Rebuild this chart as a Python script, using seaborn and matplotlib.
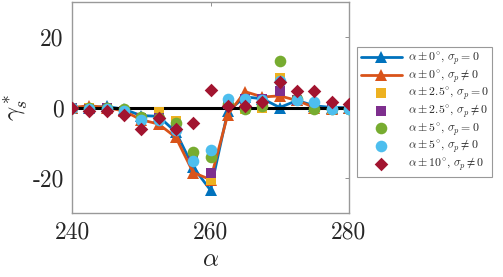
import numpy as np
import pandas as pd
import matplotlib
matplotlib.use("Agg")
import matplotlib.pyplot as plt
import seaborn as sns

# angle of attack grid
alpha = [240, 242.5, 245, 247.5, 250, 252.5, 255, 257.5, 260,
         262.5, 265, 267.5, 270, 272.5, 275, 277.5, 280]

# gamma_s* values
g0_sp0 = [0, 0, 0.3, -0.5, -2.3, -2.5, -7, -17, -23.5, -1, 3, 2.5, 0, 2, 0.5, 0, 0]
g0_spn = [0, 0.5, 0, -1, -3.5, -4.7, -8.5, -18.5, -20.5, -2, 4.5, 3, 3.3, 2, 0, -0.5, 0]
g25_sp0 = [0, 0, 0, -1, -3, -1.2, -3.7, -14, -20.5, 1, -0.5, 0, 8.3, 2, 0, -0.5, 0]
g25_spn = [0, -0.5, 0, -1, -3, -3, -6, -15, -18.7, 1, 2.5, 2.5, 4.6, 2, 0.5, 0, 0]
g5_sp0 = [0, 0, 0, -0.5, -2.6, -3, -4.5, -12.6, -14.2, 1, -0.5, 0.5, 13.3, 2.5, -0.5, -0.5, -0.5]
g5_spn = [0, -0.5, -0.5, -1, -3.5, -3.5, -6.5, -15.3, -12.1, 2.5, 2.5, 2, 7.5, 2, 1.5, -0.5, -0.5]
g10_spn = [0, -1, -1, -2, -6.1, -3, -6, -4.4, 5, 0.5, 0.5, 1.5, 7.2, 4.7, 4.8, 1.5, 1]

labels = [r'$\alpha \pm 0^{\circ},\, \sigma_p = 0$',
          r'$\alpha \pm 0^{\circ},\, \sigma_p \neq 0$',
          r'$\alpha \pm 2.5^{\circ},\, \sigma_p = 0$',
          r'$\alpha \pm 2.5^{\circ},\, \sigma_p \neq 0$',
          r'$\alpha \pm 5^{\circ},\, \sigma_p = 0$',
          r'$\alpha \pm 5^{\circ},\, \sigma_p \neq 0$',
          r'$\alpha \pm 10^{\circ},\, \sigma_p \neq 0$']

colors = ['#0072BD', '#D95319', '#EDB120', '#7E2F8E', '#77AC30', '#4DBEEE', '#A2142F']

sns.set_style("white")
plt.rcParams['font.family'] = ['cmr10', 'DejaVu Serif']
plt.rcParams['mathtext.fontset'] = 'cm'
plt.rcParams['axes.unicode_minus'] = False

fig = plt.figure(figsize=(5.03, 2.77), dpi=100)
ax = fig.add_axes([72 / 503, 1 - 213 / 277, (349 - 72) / 503, (213 - 2) / 277])

# the two line series
sns.lineplot(x=alpha, y=g0_sp0, ax=ax, color=colors[0], marker='^', markersize=8,
             markeredgewidth=0, linewidth=2, label=labels[0])
sns.lineplot(x=alpha, y=g0_spn, ax=ax, color=colors[1], marker='^', markersize=8,
             markeredgewidth=0, linewidth=2, label=labels[1])

ax.plot([240, 280], [0, 0], color='black', linewidth=2.2, zorder=3)

scatter_sets = [(g25_sp0, 's', 50), (g25_spn, 's', 50), (g5_sp0, 'o', 70),
                (g5_spn, 'o', 70), (g10_spn, 'D', 48)]
for i, (vals, mk, sz) in enumerate(scatter_sets):
    sns.scatterplot(x=alpha, y=vals, ax=ax, color=colors[i + 2], marker=mk, s=sz,
                    linewidth=0, label=labels[i + 2], zorder=4)

ax.set_xlim(240, 280)
ax.set_ylim(-30, 30)
ax.set_xticks([240, 260, 280])
ax.set_xticklabels(['240', '260', '280'])
ax.set_yticks([-20, 0, 20])
ax.set_yticklabels(['-20', '0', '20'])
ax.tick_params(direction='in', length=3, width=0.6, color='#808080', labelsize=17,
               labelcolor='#262626', top=True, right=True, pad=6)
for sp in ax.spines.values():
    sp.set_color('#999999')
    sp.set_linewidth(1.0)

ax.set_xlabel(r'$\alpha$', fontsize=18, color='#262626', labelpad=4)
ax.set_ylabel(r'$\gamma_s^*$', fontsize=18, color='#262626', labelpad=2)

leg = ax.legend(loc='upper left', bbox_to_anchor=(357 / 503, 1 - 47 / 277),
                bbox_transform=fig.transFigure, borderaxespad=0, fontsize=8.5,
                frameon=True, fancybox=False, edgecolor='#808080',
                handlelength=3.5, labelspacing=0.02, borderpad=0.3, handletextpad=0.5)
leg.get_frame().set_linewidth(0.8)

fig.savefig('out.png', dpi=100)
